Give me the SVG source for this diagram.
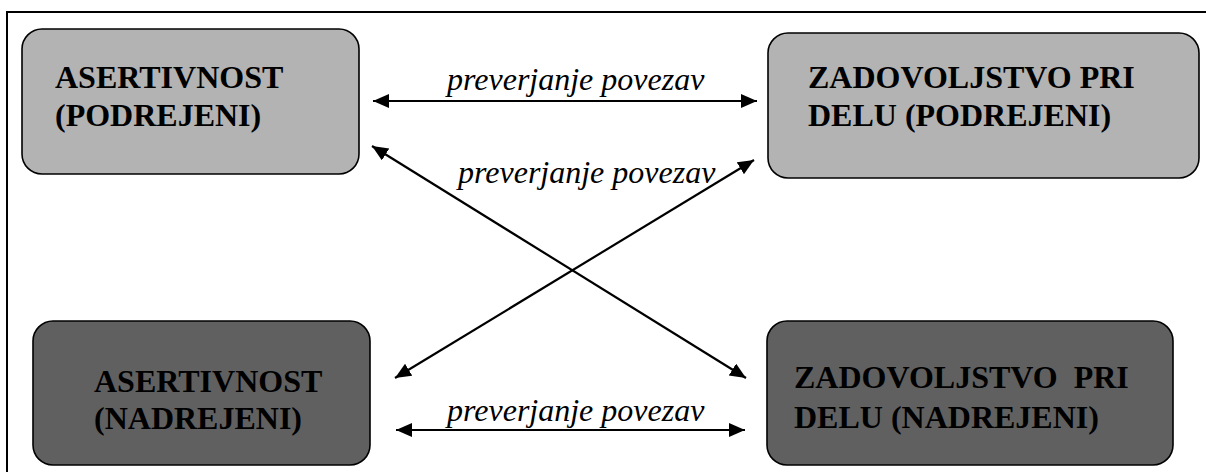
<svg xmlns="http://www.w3.org/2000/svg" width="1206" height="472" viewBox="0 0 1206 472">
<defs>
<marker id="ah" markerUnits="userSpaceOnUse" markerWidth="20" markerHeight="16" refX="16" refY="7" orient="auto-start-reverse">
<path d="M0,0 L16,7 L0,14 Z" fill="#000"/>
</marker>
</defs>
<path d="M7,472 V12 H1206" fill="none" stroke="#000" stroke-width="2"/>
<g id="connectors" stroke="#000" stroke-width="2.2" fill="none" marker-start="url(#ah)" marker-end="url(#ah)">
<line x1="373" y1="101" x2="757" y2="101"/>
<line x1="396" y1="430" x2="745" y2="430"/>
<line x1="372" y1="146" x2="746" y2="378"/>
<line x1="754" y1="160" x2="395" y2="378"/>
</g>
<g id="labels">
<text x="447" y="90" font-family="Times New Roman" font-style="italic" font-size="32">preverjanje povezav</text>
<text x="458" y="183" font-family="Times New Roman" font-style="italic" font-size="32">preverjanje povezav</text>
<text x="447" y="421" font-family="Times New Roman" font-style="italic" font-size="32">preverjanje povezav</text>
</g>
<g id="n1">
<rect x="22" y="29" width="337" height="145" rx="20" fill="#b3b3b3" stroke="#000" stroke-width="1.6"/>
<text x="55" y="88" font-family="Times New Roman" font-weight="bold" font-size="32">ASERTIVNOST</text>
<text x="55" y="126" font-family="Times New Roman" font-weight="bold" font-size="32">(PODREJENI)</text>
</g>
<g id="n2">
<rect x="768" y="33" width="431" height="145" rx="20" fill="#b3b3b3" stroke="#000" stroke-width="1.6"/>
<text x="808" y="88" font-family="Times New Roman" font-weight="bold" font-size="32">ZADOVOLJSTVO PRI</text>
<text x="808" y="126" font-family="Times New Roman" font-weight="bold" font-size="32">DELU (PODREJENI)</text>
</g>
<g id="n3">
<rect x="33" y="321" width="337" height="144" rx="20" fill="#606060" stroke="#000" stroke-width="1.6"/>
<text x="94" y="392" font-family="Times New Roman" font-weight="bold" font-size="32">ASERTIVNOST</text>
<text x="94" y="429" font-family="Times New Roman" font-weight="bold" font-size="32">(NADREJENI)</text>
</g>
<g id="n4">
<rect x="767" y="321" width="406" height="144" rx="20" fill="#606060" stroke="#000" stroke-width="1.6"/>
<text x="794" y="388" font-family="Times New Roman" font-weight="bold" font-size="32">ZADOVOLJSTVO&#160; PRI</text>
<text x="794" y="428" font-family="Times New Roman" font-weight="bold" font-size="32">DELU (NADREJENI)</text>
</g>
</svg>
